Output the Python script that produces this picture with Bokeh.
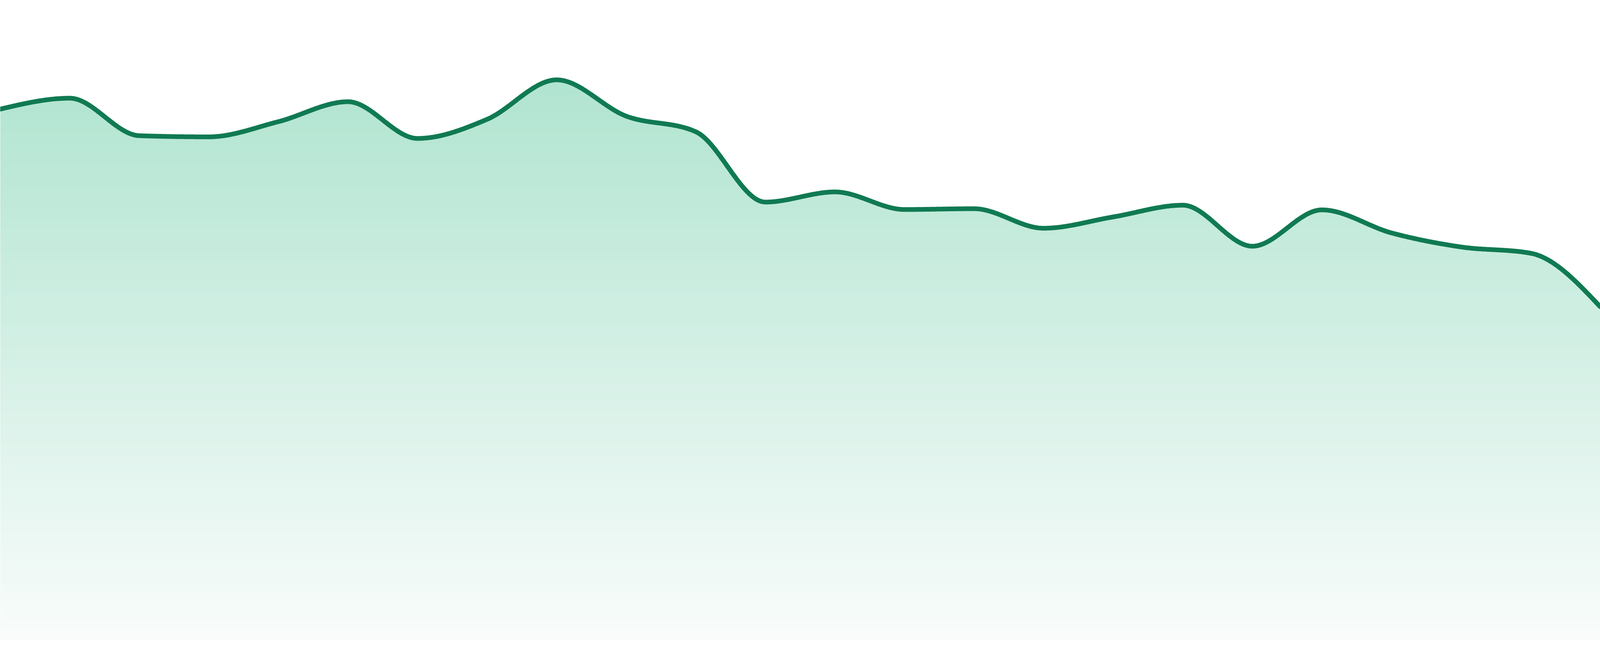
import numpy as np
from bokeh.plotting import figure
from bokeh.models import Range1d
from bokeh.embed import file_html
from bokeh.resources import INLINE

# ---- data ----
days = list(range(24))
values = [135.9, 138.7, 129.1, 128.8, 132.7, 137.8, 128.4, 133.3, 143.4, 134.1,
          130.1, 112.1, 114.7, 110.2, 110.4, 105.4, 108.3, 111.3, 100.8, 110.1,
          104.2, 100.6, 99.0, 85.3]

LINE_COLOR = "#107a52"
TOP_RGB = (176, 228, 208)
BOT_RGB = (249, 252, 251)


def monotone_x(xs, ys, n=60):
    """Render a d3-style monotoneX curve through the knots as a dense polyline."""
    x = np.asarray(xs, float)
    y = np.asarray(ys, float)
    m = len(x)
    h = np.diff(x)
    s = np.diff(y) / h
    t = np.zeros(m)
    for i in range(1, m - 1):
        s0, s1 = s[i - 1], s[i]
        pp = (s0 * h[i] + s1 * h[i - 1]) / (h[i - 1] + h[i])
        t[i] = (np.sign(s0) + np.sign(s1)) * min(abs(s0), abs(s1), 0.5 * abs(pp))
    t[0] = (3 * s[0] - t[1]) / 2
    t[-1] = (3 * s[-1] - t[-2]) / 2
    ox, oy = [], []
    u = np.linspace(0, 1, n, endpoint=False)
    for i in range(m - 1):
        x0, x1, y0, y1 = x[i], x[i + 1], y[i], y[i + 1]
        dx = (x1 - x0) / 3
        P = [(x0, y0), (x0 + dx, y0 + dx * t[i]), (x1 - dx, y1 - dx * t[i + 1]), (x1, y1)]
        b0 = (1 - u) ** 3
        b1 = 3 * (1 - u) ** 2 * u
        b2 = 3 * (1 - u) * u ** 2
        b3 = u ** 3
        ox.append(b0 * P[0][0] + b1 * P[1][0] + b2 * P[2][0] + b3 * P[3][0])
        oy.append(b0 * P[0][1] + b1 * P[1][1] + b2 * P[2][1] + b3 * P[3][1])
    ox.append([x[-1]])
    oy.append([y[-1]])
    return np.concatenate(ox), np.concatenate(oy)


cx, cy = monotone_x(days, values)

n = len(days) - 1
p = figure(sizing_mode="stretch_both",
           x_range=Range1d(0, n),
           y_range=Range1d(-4.2, 163.8),
           output_backend="svg", toolbar_location=None,
           x_axis_location=None, y_axis_location=None, min_border=0)
p.grid.visible = False
p.outline_line_color = None
p.background_fill_color = "white"
p.border_fill_color = "white"

# vertical gradient fill, built from thin horizontal bands clipped to the curve
top_v = 144.5
nb = 90
edges = np.linspace(0, top_v + 2, nb + 1)
ov = 0.12
for i in range(nb):
    lo, hi = edges[i], edges[i + 1]
    mid = (lo + hi) / 2
    f = min(max(mid / top_v, 0.0), 1.0)
    rgb = tuple(int(round(BOT_RGB[k] + (TOP_RGB[k] - BOT_RGB[k]) * f)) for k in range(3))
    col = "#%02x%02x%02x" % rgb
    base = lo - ov if i > 0 else lo
    y2 = np.clip(cy, base, hi)
    y1 = np.full_like(cy, base)
    p.varea(x=cx, y1=y1, y2=y2, fill_color=col, fill_alpha=1.0)

p.line(cx, cy, line_color=LINE_COLOR, line_width=12, line_join="round", line_cap="round")

open("out.html", "w").write(file_html(p, INLINE))
